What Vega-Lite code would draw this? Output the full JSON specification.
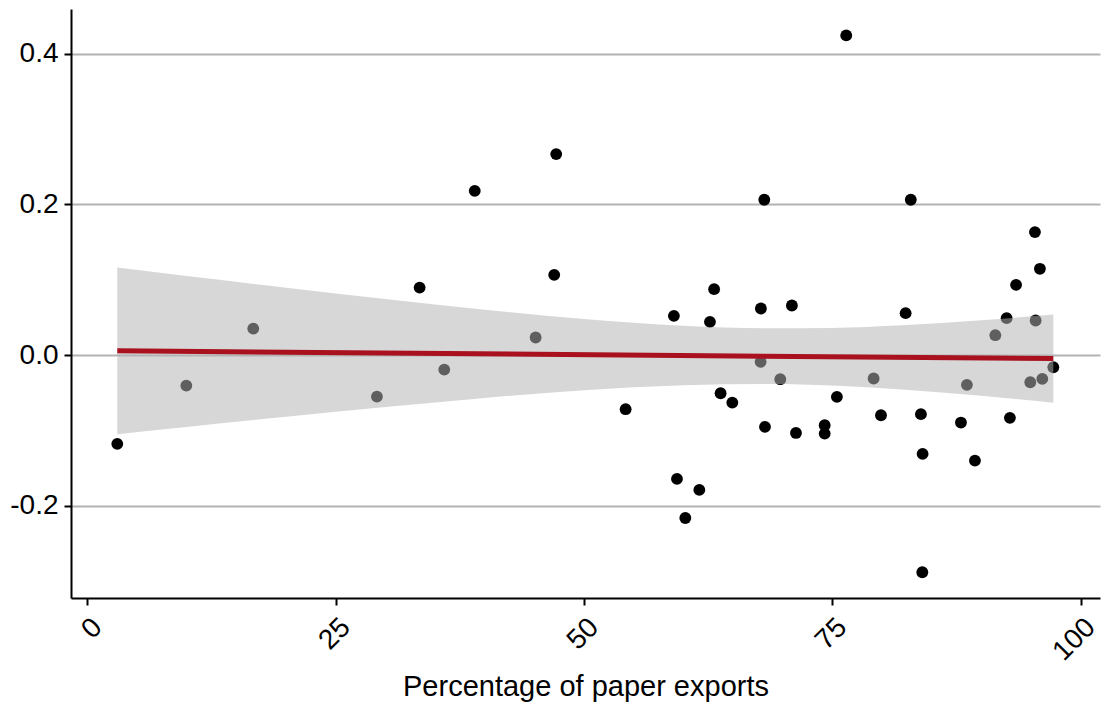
{
  "$schema": "https://vega.github.io/schema/vega-lite/v6.json",
  "width": 1029,
  "height": 589,
  "autosize": {"type": "none"},
  "padding": {"left": 71, "top": 9, "right": 1, "bottom": 104},
  "background": "white",
  "config": {
    "view": {"stroke": null},
    "axis": {
      "domainColor": "#000000",
      "domainWidth": 2,
      "tickColor": "#000000",
      "tickWidth": 2,
      "tickSize": 7,
      "labelFont": "Liberation Sans",
      "labelFontSize": 28,
      "labelColor": "#000000",
      "titleFont": "Liberation Sans",
      "titleFontSize": 29,
      "titleFontWeight": "normal",
      "titleColor": "#000000",
      "gridColor": "#b3b3b3",
      "gridWidth": 2
    }
  },
  "datasets": {
    "residuals": [
      {"share": 3.01, "resid": -0.1177},
      {"share": 9.96, "resid": -0.0404},
      {"share": 16.7, "resid": 0.0353},
      {"share": 29.15, "resid": -0.055},
      {"share": 33.45, "resid": 0.0897},
      {"share": 35.93, "resid": -0.0191},
      {"share": 39.0, "resid": 0.218},
      {"share": 45.13, "resid": 0.0234},
      {"share": 47.0, "resid": 0.1066},
      {"share": 47.2, "resid": 0.2668},
      {"share": 54.19, "resid": -0.0717},
      {"share": 59.05, "resid": 0.0522},
      {"share": 59.36, "resid": -0.1642},
      {"share": 60.2, "resid": -0.216},
      {"share": 61.61, "resid": -0.1788},
      {"share": 62.68, "resid": 0.0442},
      {"share": 63.1, "resid": 0.0876},
      {"share": 63.75, "resid": -0.0505},
      {"share": 64.93, "resid": -0.0629},
      {"share": 67.78, "resid": -0.0089},
      {"share": 67.81, "resid": 0.0619},
      {"share": 68.15, "resid": 0.2062},
      {"share": 68.22, "resid": -0.0952},
      {"share": 69.76, "resid": -0.0319},
      {"share": 70.93, "resid": 0.0659},
      {"share": 71.34, "resid": -0.1032},
      {"share": 74.23, "resid": -0.0929},
      {"share": 74.23, "resid": -0.1041},
      {"share": 75.46, "resid": -0.0553},
      {"share": 76.4, "resid": 0.4243},
      {"share": 79.16, "resid": -0.031},
      {"share": 79.9, "resid": -0.0797},
      {"share": 82.38, "resid": 0.0557},
      {"share": 82.9, "resid": 0.2062},
      {"share": 83.92, "resid": -0.0783},
      {"share": 84.06, "resid": -0.288},
      {"share": 84.09, "resid": -0.131},
      {"share": 87.95, "resid": -0.0894},
      {"share": 88.55, "resid": -0.0394},
      {"share": 89.36, "resid": -0.1399},
      {"share": 91.41, "resid": 0.0265},
      {"share": 92.55, "resid": 0.0491},
      {"share": 92.88, "resid": -0.0832},
      {"share": 93.5, "resid": 0.0933},
      {"share": 94.93, "resid": -0.0359},
      {"share": 95.4, "resid": 0.1633},
      {"share": 95.47, "resid": 0.046},
      {"share": 95.9, "resid": 0.1146},
      {"share": 96.14, "resid": -0.0315},
      {"share": 97.25, "resid": -0.016}
    ],
    "band": [
      {"share": 3.01, "lo": -0.1048, "hi": 0.1162},
      {"share": 10, "lo": -0.0952, "hi": 0.105},
      {"share": 20, "lo": -0.0817, "hi": 0.0895},
      {"share": 30, "lo": -0.0688, "hi": 0.0744},
      {"share": 40, "lo": -0.0568, "hi": 0.0604},
      {"share": 50, "lo": -0.0467, "hi": 0.0481},
      {"share": 60, "lo": -0.04, "hi": 0.039},
      {"share": 68.7, "lo": -0.0384, "hi": 0.0356},
      {"share": 75, "lo": -0.0404, "hi": 0.0362},
      {"share": 82, "lo": -0.0454, "hi": 0.0398},
      {"share": 90, "lo": -0.0538, "hi": 0.0464},
      {"share": 97.25, "lo": -0.063, "hi": 0.054}
    ],
    "fit": [
      {"share": 3.01, "fitted": 0.0057},
      {"share": 97.25, "fitted": -0.0045}
    ]
  },
  "layer": [
    {
      "data": {"name": "residuals"},
      "mark": {"type": "circle", "color": "#000000", "opacity": 1, "size": 140},
      "encoding": {
        "x": {
          "field": "share",
          "type": "quantitative",
          "scale": {"domain": [-1.65, 101.95], "nice": false, "zero": false},
          "axis": {
            "title": "Percentage of paper exports",
            "values": [0, 25, 50, 75, 100],
            "grid": false,
            "labelAngle": -45,
            "labelAlign": "right",
            "labelBaseline": "top",
            "labelPadding": 8,
            "titleBaseline": "alphabetic",
            "titleY": 97
          }
        },
        "y": {
          "field": "resid",
          "type": "quantitative",
          "scale": {"domain": [-0.3222, 0.4593], "nice": false, "zero": false},
          "axis": {
            "title": null,
            "values": [-0.2, 0, 0.2, 0.4],
            "grid": true,
            "labelPadding": 6,
            "labelExpr": "replace(format(datum.value, '.1f'), '\u2212', '-')"
          }
        }
      }
    },
    {
      "data": {"name": "band"},
      "mark": {"type": "area", "color": "#b3b3b3", "opacity": 0.53, "interpolate": "monotone"},
      "encoding": {
        "x": {"field": "share", "type": "quantitative"},
        "y": {"field": "lo", "type": "quantitative"},
        "y2": {"field": "hi"}
      }
    },
    {
      "data": {"name": "fit"},
      "mark": {"type": "line", "color": "#a8111d", "strokeWidth": 5},
      "encoding": {
        "x": {"field": "share", "type": "quantitative"},
        "y": {"field": "fitted", "type": "quantitative"}
      }
    }
  ]
}
